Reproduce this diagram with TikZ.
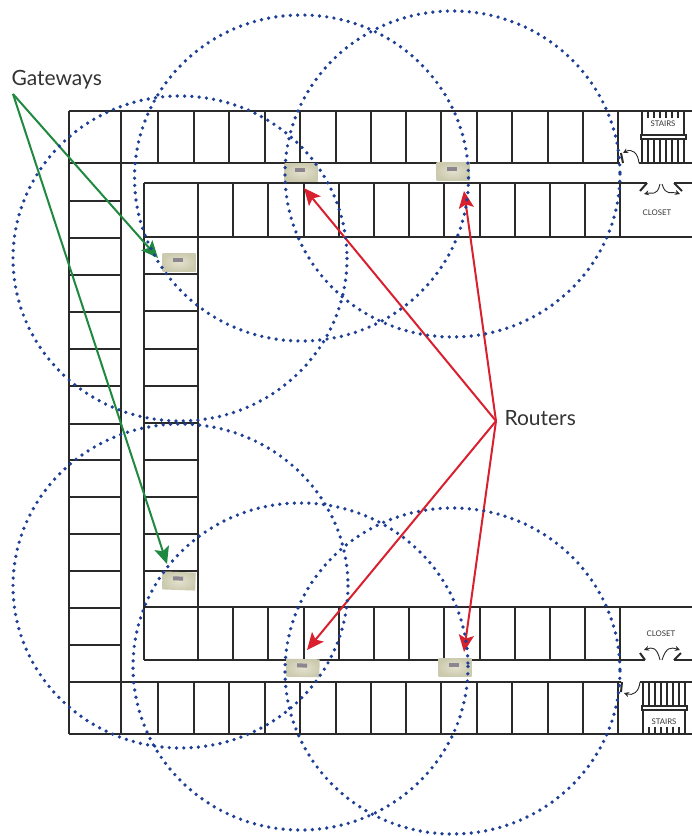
\documentclass[tikz,border=0pt]{standalone}
\usepackage{fontspec}
\setmainfont{Lato}
\usetikzlibrary{arrows.meta, positioning}
\definecolor{wallcol}{HTML}{2A2A2A}
\definecolor{dotcol}{HTML}{1F3F95}
\definecolor{gwcol}{HTML}{1F8A3F}
\definecolor{rtcol}{HTML}{D9202E}
\definecolor{txtcol}{HTML}{333333}
\definecolor{bodylight}{HTML}{E4E2CF}
\definecolor{bodydark}{HTML}{CCCAAE}
\definecolor{slotcol}{HTML}{8B8690}
\tikzstyle{wall} = [line width=1.7pt, draw=wallcol]
\tikzstyle{tread} = [line width=1.4pt, draw=wallcol]
\tikzstyle{leaf} = [line width=2pt, draw=wallcol]
\tikzstyle{swing} = [line width=0.9pt, draw=wallcol, -{Stealth[length=5pt,width=5pt]}]
\tikzstyle{reach} = [line width=3.7pt, draw=dotcol, line cap=round, dash pattern=on 0pt off 7.3pt]
\tikzstyle{device} = [
  rectangle, minimum width=33pt, minimum height=18pt, inner sep=0pt,
  inner color=bodylight, outer color=bodydark,
  path picture={\fill[slotcol] ([xshift=-6pt,yshift=0.5pt]path picture bounding box.center) rectangle ++(10pt,4pt);}
]
\tikzstyle{link} = [line width=2pt, -{Stealth[length=17pt,width=15pt,inset=3.5pt]}]

\begin{document}
\begin{tikzpicture}[x=1pt, y=-1pt, every node/.style={text=txtcol},
    biglabel/.style={font=\fontsize{21}{24}\selectfont},
    tinylabel/.style={font=\fontsize{7.8}{9}\selectfont}]
\useasboundingbox (0,0) rectangle (692,836);

% Outer walls
\draw[wall] (69,111) -- (692,111);
\draw[wall] (69,163) -- (620,163);
\draw[wall] (639,163) -- (692,163);
\draw[wall] (69,734) -- (692,734);
\draw[wall] (69,682) -- (621,682);
\draw[wall] (640,682) -- (692,682);
\draw[wall] (69,111) -- (69,734);
\draw[wall] (121,111) -- (121,734);

% Inner walls
\draw[wall] (144,183) -- (647,183);
\draw[wall] (674,183) -- (692,183);
\draw[wall] (144,237) -- (692,237);
\draw[wall] (144,607) -- (692,607);
\draw[wall] (144,660) -- (645,660);
\draw[wall] (674,660) -- (692,660);
\draw[wall] (144,183) -- (144,660);
\draw[wall] (198,183) -- (198,660);

% Rooms along the wings
\foreach \y in {201,238,275,312,349,386,424,460,497,534,571,608,645}
  \draw[wall] (69,\y) -- (121,\y);
\foreach \y in {274,311,349,386,423,460,497,534,571}
  \draw[wall] (144,\y) -- (198,\y);

% Rooms along the top and bottom
\foreach \x in {158,194,229,265,300,336,371,406,441,477,512,548,583,618} {
  \draw[wall] (\x,111) -- (\x,163);
  \draw[wall] (\x,682) -- (\x,734);
}
\foreach \x in {233,268,304,339,374,409,444,480,515,550,585,620} {
  \draw[wall] (\x,183) -- (\x,237);
  \draw[wall] (\x,607) -- (\x,660);
}

% Stairs
\foreach \x in {648,654,660,666,672,678} {
  \draw[tread] (\x,111) -- (\x,118);
  \draw[tread] (\x,137) -- (\x,163);
}
\foreach \x in {642,684}
  \draw[tread] (\x,111) -- (\x,163);
\foreach \x in {649,655,661,667,673,679} {
  \draw[tread] (\x,682) -- (\x,708);
  \draw[tread] (\x,727) -- (\x,734);
}
\foreach \x in {643,685}
  \draw[tread] (\x,682) -- (\x,734);
\draw[tread, fill=white] (641,135) rectangle (686,139);
\draw[tread, fill=white] (642,706) rectangle (687,710);
\node[tinylabel] (stairstop) at (663,124) {STAIRS};
\node[tinylabel] (stairsbottom) at (664,722) {STAIRS};
\node[tinylabel] (closettop) at (657,213) {CLOSET};
\node[tinylabel] (closetbottom) at (661,634) {CLOSET};

% Doors
\draw[leaf] (623,163) -- (621,153);
\draw[swing] (639,163) .. controls (638,153) and (632,148) .. (623,153);
\draw[leaf] (647,183) -- (640,191);
\draw[leaf] (674,183) -- (682,191);
\draw[swing] (660,184) .. controls (657,197) and (652,192) .. (644,194);
\draw[swing] (662,184) .. controls (666,197) and (671,191) .. (680,194);
\draw[leaf] (622,682) -- (621,692);
\draw[swing] (640,682) .. controls (639,692) and (633,696) .. (624,693);
\draw[leaf] (645,660) -- (640,653);
\draw[leaf] (674,660) -- (681,653);
\draw[swing] (660,660) .. controls (657,647) and (652,647) .. (644,650);
\draw[swing] (662,660) .. controls (666,647) and (671,647) .. (680,650);

% Devices
\node[device] (gwtop) at (179,262) {};
\node[device, rotate=-2] (gwbottom) at (179,581) {};
\node[device] (rttopleft) at (301,172) {};
\node[device] (rttopright) at (453,171) {};
\node[device, rotate=-1] (rtbottomleft) at (303,668) {};
\node[device] (rtbottomright) at (455,667) {};

% Labels
\node[biglabel, anchor=base west] (gateways) at (8,85) {Gateways};
\node[biglabel, anchor=base west] (routers) at (501,425) {Routers};

% Arrows
\coordinate (gwfork) at (13,94);
\coordinate (gwtoptip) at (158,258);
\coordinate (gwbottomtip) at (167,564);
\coordinate (rtfork) at (496,421);
\coordinate (rttltip) at (304,188);
\coordinate (rttrtip) at (464,191);
\coordinate (rtbltip) at (307,650);
\coordinate (rtbrtip) at (464,652);
\draw[link, draw=gwcol, fill=gwcol] (gwfork) -- (gwtoptip);
\draw[link, draw=gwcol, fill=gwcol] (gwfork) -- (gwbottomtip);
\draw[link, draw=rtcol, fill=rtcol] (rtfork) -- (rttltip);
\draw[link, draw=rtcol, fill=rtcol] (rtfork) -- (rttrtip);
\draw[link, draw=rtcol, fill=rtcol] (rtfork) -- (rtbltip);
\draw[link, draw=rtcol, fill=rtcol] (rtfork) -- (rtbrtip);

% Radio coverage
\draw[reach] (180,258.5) ellipse (167 and 162.5);
\draw[reach] (301.5,178) ellipse (167 and 163);
\draw[reach] (452.5,174) ellipse (167.5 and 163);
\draw[reach] (180.5,586) ellipse (167.5 and 162);
\draw[reach] (300.5,666.5) ellipse (167.5 and 163.5);
\draw[reach] (452.5,671) ellipse (167.5 and 163);

\end{tikzpicture}
\end{document}
